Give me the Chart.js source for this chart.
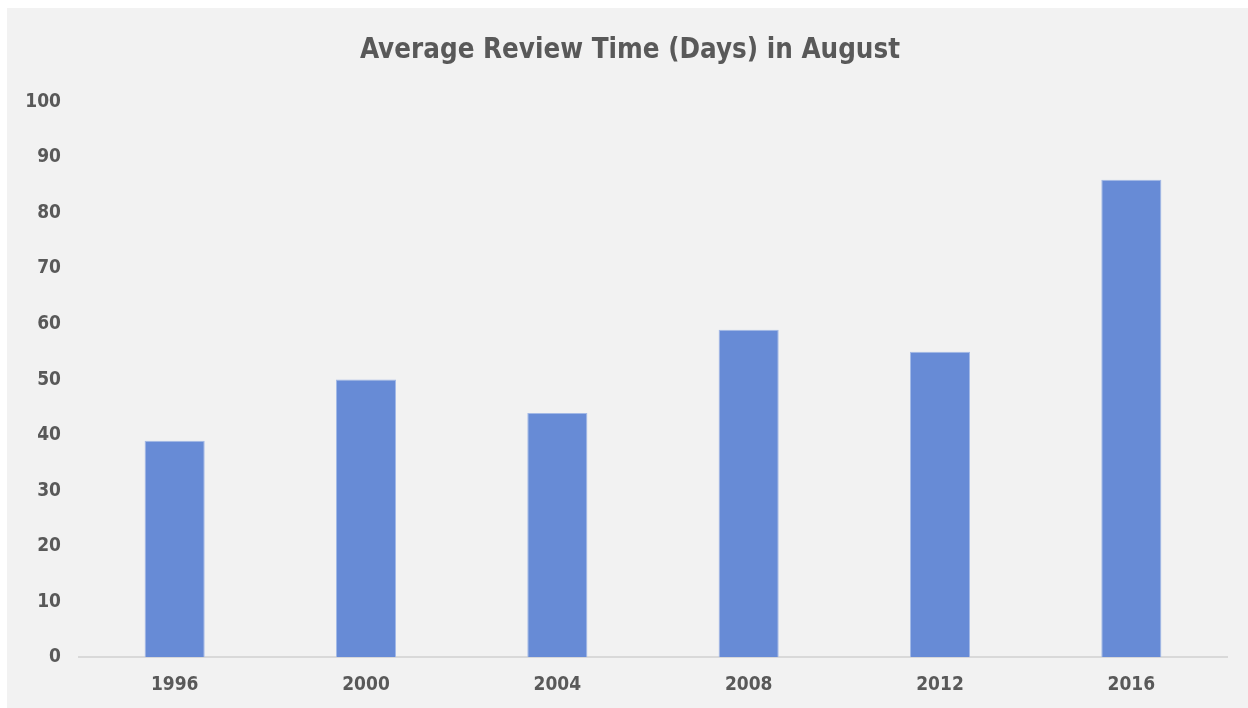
<!DOCTYPE html>
<html>
<head>
<meta charset="utf-8">
<script src="https://cdn.jsdelivr.net/npm/chart.js@4"></script>
<style>
  html, body { margin: 0; padding: 0; background: #ffffff; }
  #wrap { position: absolute; left: 7px; top: 8px; width: 1241px; height: 700px; background: #f2f2f2; }
  canvas { display: block; }
</style>
</head>
<body>
<div id="wrap"><canvas id="c" width="1241" height="700"></canvas></div>
<script>
const categories = ['1996', '2000', '2004', '2008', '2012', '2016'];
const reviewDays = [39, 50, 44, 59, 55, 86];
const yTicks = [0, 10, 20, 30, 40, 50, 60, 70, 80, 90, 100];
const chartTitle = 'Average Review Time (Days) in August';

const FONT = "'DejaVu Sans Condensed', 'DejaVu Sans', sans-serif";
const TEXT = '#595959';

// Shift the title box so it is centred like the reference (slightly right of canvas centre)
const titleShift = {
  id: 'titleShift',
  afterLayout(chart) {
    const t = chart.titleBlock;
    if (t) { t.left += 26; }
  }
};

new Chart(document.getElementById('c'), {
  type: 'bar',
  data: {
    labels: categories,
    datasets: [{
      data: reviewDays,
      backgroundColor: '#678bd6',
      borderColor: '#a3b9e6',
      borderWidth: 1,
      categoryPercentage: 1,
      barPercentage: 0.314
    }]
  },
  plugins: [titleShift],
  options: {
    responsive: false,
    animation: false,
    layout: { padding: { left: 0, right: 21, top: 0, bottom: -4 } },
    plugins: {
      legend: { display: false },
      tooltip: { enabled: false },
      title: {
        display: true,
        text: chartTitle,
        color: TEXT,
        font: { family: FONT, size: 27.5, weight: 'bold', lineHeight: 1.2 },
        padding: { top: 26, bottom: 35 }
      }
    },
    scales: {
      x: {
        grid: { display: false, drawTicks: false },
        border: { display: true, color: '#d9d9d9', width: 2 },
        ticks: { color: TEXT, padding: 16, font: { family: FONT, size: 19, weight: 'bold', lineHeight: 1.2 } }
      },
      y: {
        min: 0,
        max: 100,
        afterBuildTicks: (scale) => { scale.ticks = yTicks.map(v => ({ value: v })); },
        afterFit: (scale) => { scale.width = 72; },
        grid: { display: false, drawTicks: false },
        border: { display: false },
        ticks: { color: TEXT, padding: 18, font: { family: FONT, size: 19, weight: 'bold', lineHeight: 1.2 } }
      }
    }
  }
});
</script>
</body>
</html>
